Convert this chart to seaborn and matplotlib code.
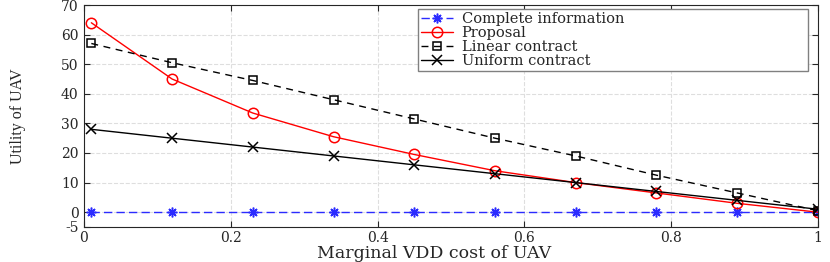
import matplotlib
matplotlib.use("Agg")
import matplotlib.pyplot as plt
import numpy as np
import pandas as pd
import seaborn as sns

sns.set_style("ticks")
plt.rcParams['font.family'] = ['DejaVu Serif']
plt.rcParams['axes.unicode_minus'] = False

# values
cost = [0.01, 0.12, 0.23, 0.34, 0.45, 0.56, 0.67, 0.78, 0.89, 1.0]
complete_info = [0, 0, 0, 0, 0, 0, 0, 0, 0, 0]
proposal = [64, 45, 33.5, 25.5, 19.5, 14, 10, 6.5, 3, 0]
linear_contract = [57, 50.5, 44.5, 38, 31.5, 25, 19, 12.5, 6.5, 0.5]
uniform_contract = [28, 25, 22, 19, 16, 13, 10, 7, 4, 1]
labels = ['Complete information', 'Proposal', 'Linear contract', 'Uniform contract']
xticks = [0, 0.2, 0.4, 0.6, 0.8, 1]
xticklabels = ['0', '0.2', '0.4', '0.6', '0.8', '1']
yticks = [-5, 0, 10, 20, 30, 40, 50, 60, 70]

series = [complete_info, proposal, linear_contract, uniform_contract]
colors = ['#2b2bff', '#ff0000', '#000000', '#000000']
lstyles = [(0, (6, 3)), '-', (0, (5, 4)), '-']
markers = [(8, 2, 0), 'o', 's', 'x']
msizes = [7, 7.5, 6, 7]

fig = plt.figure(figsize=(8.3, 2.62), dpi=100)
ax = fig.add_axes([0.1012, 0.1336, 0.8843, 0.8473])

for vals, lab, c, ls, m, ms in zip(series, labels, colors, lstyles, markers, msizes):
    sns.lineplot(x=cost, y=vals, ax=ax, color=c, linestyle=ls, marker=m,
                 markersize=ms, markeredgecolor=c, markerfacecolor='none',
                 markeredgewidth=1.1, linewidth=1.0, label=lab)

ax.set_xlim(0, 1)
ax.set_ylim(-5, 70)
ax.set_xticks(xticks)
ax.set_xticklabels(xticklabels)
ax.set_yticks(yticks)
ax.tick_params(direction='in', top=True, right=True, length=4, labelsize=10,
               colors='#262626', pad=4)
ax.tick_params(axis='x', pad=3)
ax.grid(True, linestyle='--', color='#dedede', linewidth=0.8)
for s in ax.spines.values():
    s.set_color('#262626')
    s.set_linewidth(0.8)

ax.set_xlabel('Marginal VDD cost of UAV', fontsize=12.5)
ax.xaxis.set_label_coords(0.477, -0.08)
ax.set_ylabel('Utility of UAV', fontfamily='Liberation Serif', fontsize=11.5)
ax.yaxis.set_label_coords(-0.079, 0.5)

ax.legend(loc='upper left', bbox_to_anchor=(0.455, 0.68, 0.531, 0.302),
          mode='expand', borderaxespad=0, fontsize=10.5, labelspacing=0.0,
          borderpad=0.2, handlelength=2.2, handletextpad=0.6,
          fancybox=False, framealpha=1, edgecolor='#808080')

fig.savefig('out.png', dpi=100)
